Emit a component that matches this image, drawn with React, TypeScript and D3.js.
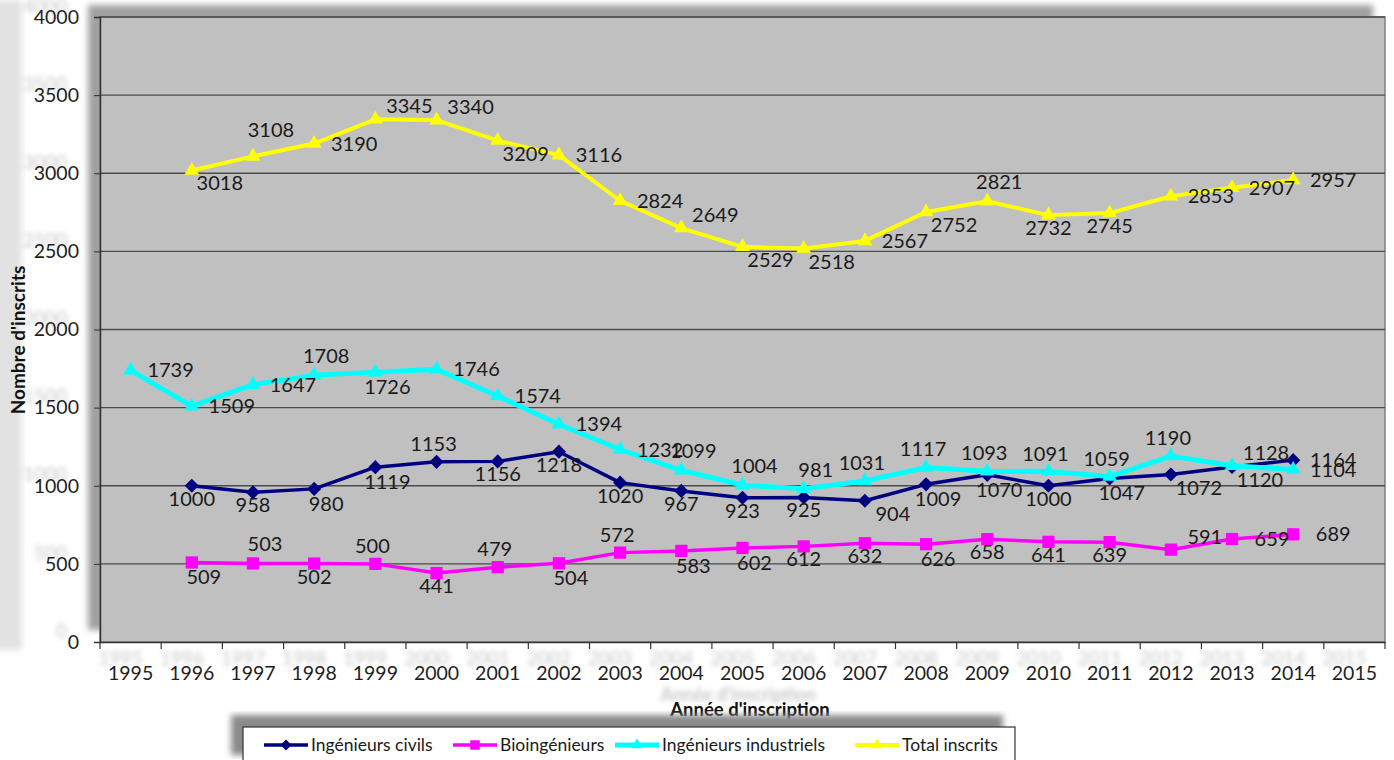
import React, { useEffect, useRef } from 'react';
import * as d3 from 'd3';

const years = ['1995', '1996', '1997', '1998', '1999', '2000', '2001', '2002', '2003', '2004', '2005',
  '2006', '2007', '2008', '2009', '2010', '2011', '2012', '2013', '2014', '2015'];

const civils = [null, 1000, 958, 980, 1119, 1153, 1156, 1218, 1020, 967, 923, 925, 904, 1009, 1070, 1000, 1047, 1072, 1120, 1164, null];
const bio = [null, 509, 503, 502, 500, 441, 479, 504, 572, 583, 602, 612, 632, 626, 658, 641, 639, 591, 659, 689, null];
const industriels = [1739, 1509, 1647, 1708, 1726, 1746, 1574, 1394, 1232, 1099, 1004, 981, 1031, 1117, 1093, 1091, 1059, 1190, 1128, 1104, null];
const total = [null, 3018, 3108, 3190, 3345, 3340, 3209, 3116, 2824, 2649, 2529, 2518, 2567, 2752, 2821, 2732, 2745, 2853, 2907, 2957, null];

const yTicks = [0, 500, 1000, 1500, 2000, 2500, 3000, 3500, 4000];

// where each data label sits relative to its point (see labelOffset below)
const civilsPlace = [null, 'd', 'd', 'b', 'b', 'c', 'd', 'd', 'd', 'd', 'd', 'd', 'br', 'b', 'b', 'd', 'b', 'br', 'br', 'r', null];
const bioPlace = [null, 'b', 'a', 'd', 'c', 'd', 'c', 'b', 'c', 'b', 'b', 'd', 'd', 'b', 'd', 'd', 'd', 'ar', 'r', 'r', null];
const induPlace = ['r', 'r', 'r', 'a', 'b', 'r', 'r', 'r', 'r', 'a', 'a', 'a', 'c', 'c', 'c', 'c', 'c', 'c', 'ar', 'r', null];
const totalPlace = [null, 'br', 'aa', 'r', 'ar', 'ar', 'br', 'r', 'r', 'ar', 'br', 'br', 'r', 'br', 'a', 'd', 'd', 'r', 'r', 'r', null];

const labelOffset: Record<string, [number, number]> = {
  a: [12, -19], aa: [18, -26], c: [-3, -18], ar: [34, -13],
  r: [40, 0], br: [28, 13], b: [12, 15], d: [0, 13],
};

const FONT = 'Lato, "Open Sans", sans-serif';

const series = [
  { name: 'Ingénieurs civils', values: civils, place: civilsPlace, color: '#000080', width: 3.5, marker: 'diamond' },
  { name: 'Bioingénieurs', values: bio, place: bioPlace, color: '#ff00ff', width: 3.5, marker: 'square' },
  { name: 'Ingénieurs industriels', values: industriels, place: induPlace, color: '#00ffff', width: 5, marker: 'triangle' },
  { name: 'Total inscrits', values: total, place: totalPlace, color: '#ffff00', width: 4, marker: 'triangle' },
];

const markerPath = (kind: string, scale = 1) => {
  if (kind === 'square') return d3.symbol().type(d3.symbolSquare).size(150 * scale)()!;
  if (kind === 'triangle') return d3.symbol().type(d3.symbolTriangle).size(95 * scale)()!;
  return d3.symbol().type(d3.symbolSquare).size(100 * scale)()!;
};

const App = () => {
  const svgRef = useRef<SVGSVGElement>(null);

  useEffect(() => {
    const svg = d3.select(svgRef.current);
    svg.selectAll('*').remove();

    const left = 100, right = 1385, top = 17, bottom = 642;
    const x = d3.scaleBand().domain(years).range([left, right]);
    const y = d3.scaleLinear().domain([0, 4000]).range([bottom, top]);
    const cx = (i: number) => x(years[i])! + x.bandwidth() / 2;

    const defs = svg.append('defs');
    defs.append('filter').attr('id', 'soft').attr('x', '-10%').attr('y', '-10%').attr('width', '120%').attr('height', '120%')
      .append('feGaussianBlur').attr('stdDeviation', 3);
    defs.append('filter').attr('id', 'ghost').attr('x', '-20%').attr('y', '-50%').attr('width', '140%').attr('height', '200%')
      .append('feGaussianBlur').attr('stdDeviation', 2.4);

    // shadows
    svg.append('rect').attr('x', -8).attr('y', 0).attr('width', 30).attr('height', 650)
      .attr('fill', '#e2e2e2').attr('filter', 'url(#soft)');
    svg.append('rect').attr('x', left - 12).attr('y', top - 12).attr('width', right - left).attr('height', bottom - top)
      .attr('fill', '#a0a0a0').attr('filter', 'url(#soft)');

    // plot area
    svg.append('rect').attr('x', left).attr('y', top).attr('width', right - left).attr('height', bottom - top)
      .attr('fill', '#c0c0c0').attr('stroke', '#808080').attr('stroke-width', 1.5);

    svg.append('g').selectAll('line').data(yTicks.filter(d => d > 0)).join('line')
      .attr('x1', left).attr('x2', right).attr('y1', d => y(d)).attr('y2', d => y(d))
      .attr('stroke', '#4a4a4a').attr('stroke-width', 1.3);

    // ghost tick labels
    svg.append('g').selectAll('text').data(yTicks).join('text')
      .attr('x', 67).attr('y', d => y(d) - 11).attr('dy', '0.35em').attr('text-anchor', 'end')
      .attr('fill', '#c8c8c8').attr('filter', 'url(#ghost)')
      .style('font-family', FONT).style('font-size', '19px').text(d => d);
    svg.append('g').selectAll('text').data(years).join('text')
      .attr('x', (d, i) => cx(i) - 10).attr('y', bottom + 16).attr('dy', '0.35em').attr('text-anchor', 'middle')
      .attr('fill', '#c8c8c8').attr('filter', 'url(#ghost)')
      .style('font-family', FONT).style('font-size', '19px').text(d => d);

    // y axis
    const yAxis = svg.append('g').attr('transform', `translate(${left},0)`)
      .call(d3.axisLeft(y).tickValues(yTicks).tickSize(6).tickPadding(15).tickFormat(d => String(d)));
    yAxis.select('.domain').attr('stroke', '#333').attr('stroke-width', 1.5);
    yAxis.selectAll('.tick line').attr('stroke', '#333');
    yAxis.selectAll('text').attr('fill', '#1e1e1e').style('font-family', FONT).style('font-size', '19.5px');

    // x axis: ticks on band edges, labels in band centres
    const xAxis = svg.append('g').attr('transform', `translate(0,${bottom})`)
      .call(d3.axisBottom(x).tickSize(0).tickPadding(24));
    xAxis.select('.domain').attr('stroke', '#333').attr('stroke-width', 1.5);
    xAxis.selectAll('text').attr('fill', '#1e1e1e').style('font-family', FONT).style('font-size', '19.5px');
    svg.append('g').selectAll('line').data([...years.map(d => x(d)!), right]).join('line')
      .attr('x1', d => d).attr('x2', d => d).attr('y1', bottom).attr('y2', bottom + 7)
      .attr('stroke', '#333').attr('stroke-width', 1.2);

    // series
    const line = d3.line<number | null>()
      .defined(d => d != null)
      .x((d, i) => cx(i))
      .y(d => y(d as number));

    series.forEach(s => {
      const g = svg.append('g');
      g.append('path').datum(s.values).attr('d', line)
        .attr('fill', 'none').attr('stroke', s.color).attr('stroke-width', s.width).attr('stroke-linejoin', 'round');
      g.selectAll('path.m').data(s.values.map((v, i) => ({ v, i })).filter(d => d.v != null)).join('path')
        .attr('class', 'm')
        .attr('d', markerPath(s.marker))
        .attr('transform', d => `translate(${cx(d.i)},${y(d.v as number)})${s.marker === 'diamond' ? ' rotate(45)' : ''}`)
        .attr('fill', s.color);
    });

    // data labels
    series.forEach(s => {
      svg.append('g').selectAll('text').data(s.values.map((v, i) => ({ v, i, p: s.place[i] })).filter(d => d.v != null)).join('text')
        .attr('x', d => cx(d.i) + labelOffset[d.p as string][0])
        .attr('y', d => y(d.v as number) + labelOffset[d.p as string][1])
        .attr('dy', '0.35em').attr('text-anchor', 'middle')
        .attr('fill', '#1a1a1a').style('font-family', FONT).style('font-size', '20px')
        .text(d => String(d.v));
    });

    // axis titles
    svg.append('text').attr('transform', 'translate(18,340) rotate(-90)').attr('text-anchor', 'middle').attr('dy', '0.35em')
      .style('font-family', FONT).style('font-size', '19px').style('font-weight', 'bold').attr('fill', '#111')
      .text("Nombre d'inscrits");
    svg.append('text').attr('x', 738).attr('y', 695).attr('text-anchor', 'middle').attr('dy', '0.35em')
      .attr('fill', '#c8c8c8').attr('filter', 'url(#ghost)')
      .style('font-family', FONT).style('font-size', '18px').style('font-weight', 'bold')
      .text("Année d'inscription");
    svg.append('text').attr('x', 750).attr('y', 710).attr('text-anchor', 'middle').attr('dy', '0.35em')
      .style('font-family', FONT).style('font-size', '18.5px').style('font-weight', 'bold').attr('fill', '#111')
      .text("Année d'inscription");

    // legend
    const lx = 243, ly = 727, lw = 772, lh = 40;
    svg.append('rect').attr('x', lx - 12).attr('y', ly - 12).attr('width', lw).attr('height', lh)
      .attr('fill', '#8a8a8a').attr('filter', 'url(#soft)');
    svg.append('rect').attr('x', lx).attr('y', ly).attr('width', lw).attr('height', lh)
      .attr('fill', '#fff').attr('stroke', '#333').attr('stroke-width', 1.2);
    const itemX = [264, 453, 615, 855];
    series.forEach((s, i) => {
      const g = svg.append('g').attr('transform', `translate(${itemX[i]},${ly + 18})`);
      g.append('line').attr('x1', 0).attr('x2', 44).attr('stroke', s.color).attr('stroke-width', s.width);
      g.append('path').attr('d', markerPath(s.marker, 0.6))
        .attr('transform', `translate(22,0)${s.marker === 'diamond' ? ' rotate(45)' : ''}`).attr('fill', s.color);
      g.append('text').attr('x', 47).attr('dy', '0.35em').attr('fill', '#1a1a1a')
        .style('font-family', FONT).style('font-size', '17.5px').text(s.name);
    });
  }, []);

  return (
    <svg ref={svgRef} width={1394} height={760}
      style={{ position: 'absolute', left: 0, top: 0, display: 'block', background: '#fff' }} />
  );
};

export default App;
